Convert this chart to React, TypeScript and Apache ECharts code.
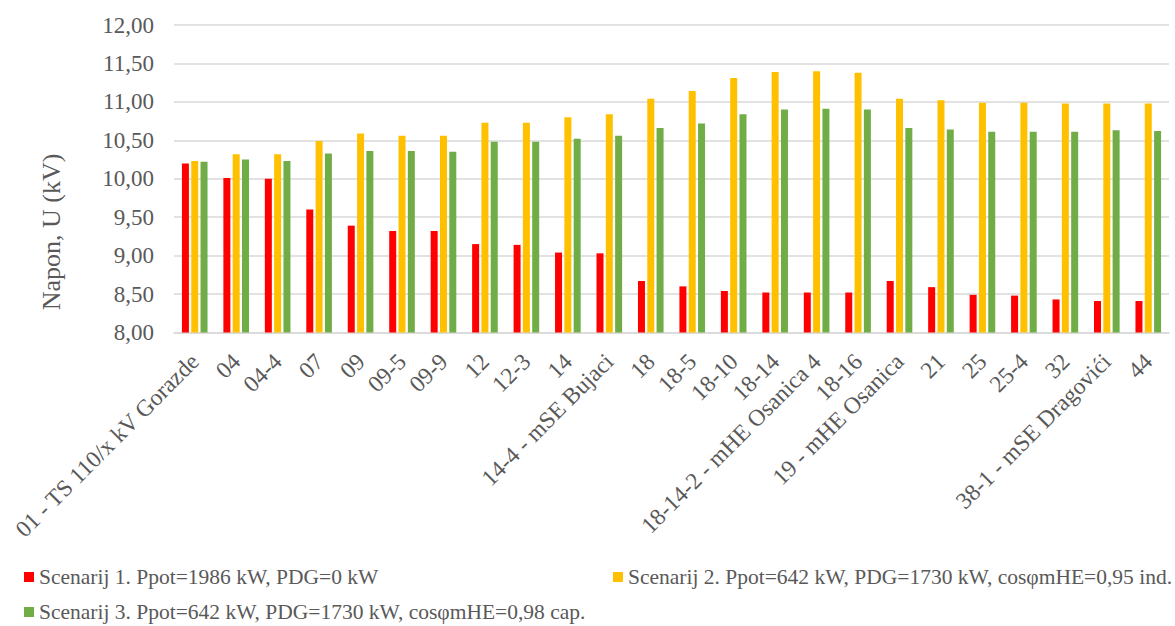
import React, { useEffect, useRef } from "react";
import * as echarts from "echarts";

// Node names along the feeder
const categories: string[] = [
  "01 - TS 110/x kV Gorazde",
  "04",
  "04-4",
  "07",
  "09",
  "09-5",
  "09-9",
  "12",
  "12-3",
  "14",
  "14-4 - mSE Bujaci",
  "18",
  "18-5",
  "18-10",
  "18-14",
  "18-14-2 - mHE Osanica 4",
  "18-16",
  "19 - mHE Osanica",
  "21",
  "25",
  "25-4",
  "32",
  "38-1 - mSE Dragovići",
  "44",
];

// Voltage per node (kV) for each scenario
const scenario1: number[] = [
  10.2, 10.01, 10.0, 9.6, 9.39, 9.32, 9.32, 9.15, 9.14, 9.04, 9.03, 8.67,
  8.6, 8.54, 8.52, 8.52, 8.52, 8.67, 8.59, 8.49, 8.48, 8.43, 8.41, 8.41,
];
const scenario2: number[] = [
  10.23, 10.32, 10.32, 10.49, 10.59, 10.56, 10.56, 10.73, 10.73, 10.8, 10.84,
  11.04, 11.14, 11.31, 11.39, 11.4, 11.38, 11.04, 11.02, 10.99, 10.99, 10.98,
  10.98, 10.98,
];
const scenario3: number[] = [
  10.22, 10.25, 10.23, 10.33, 10.36, 10.36, 10.35, 10.48, 10.48, 10.52, 10.56,
  10.66, 10.72, 10.84, 10.9, 10.91, 10.9, 10.66, 10.64, 10.61, 10.61, 10.61,
  10.63, 10.62,
];

const seriesNames: string[] = [
  "Scenarij 1. Ppot=1986 kW, PDG=0 kW",
  "Scenarij 2. Ppot=642 kW, PDG=1730 kW, cosφmHE=0,95 ind.",
  "Scenarij 3. Ppot=642 kW, PDG=1730 kW, cosφmHE=0,98 cap.",
];
const seriesColors: string[] = ["#FF0000", "#FFC000", "#70AD47"];

const yTitle = "Napon, U (kV)";

const FONT = "'Liberation Serif', 'Times New Roman', serif";
const TEXT_COLOR = "#595959";

export default function App() {
  const ref = useRef<HTMLDivElement>(null);

  useEffect(() => {
    if (!ref.current) return;
    const chart = echarts.init(ref.current, undefined, { renderer: "svg" });

    const values = [scenario1, scenario2, scenario3];
    const legendPos = [
      { left: 24, top: 566 },
      { left: 613, top: 566 },
      { left: 24, top: 601 },
    ];

    chart.setOption({
      animation: false,
      backgroundColor: "#ffffff",
      textStyle: { fontFamily: FONT, color: TEXT_COLOR },
      grid: { left: 174, right: 6, top: 25, bottom: 293.5 },
      legend: legendPos.map((p, i) => ({
        left: p.left,
        top: p.top,
        data: [seriesNames[i]],
        icon: "rect",
        itemWidth: 10,
        itemHeight: 10,
        itemGap: 0,
        padding: 0,
        textStyle: { fontFamily: FONT, fontSize: 21.5, color: TEXT_COLOR },
      })),
      graphic: [
        {
          type: "text",
          x: 51,
          y: 232,
          rotation: Math.PI / 2,
          style: {
            text: yTitle,
            fontFamily: FONT,
            fontSize: 26,
            fill: TEXT_COLOR,
            textAlign: "center",
            textVerticalAlign: "middle",
          },
        },
      ],
      xAxis: {
        type: "category",
        data: categories,
        axisLine: { lineStyle: { color: "#D9D9D9", width: 1.5 } },
        axisTick: { show: false },
        axisLabel: {
          interval: 0,
          rotate: 45,
          margin: 25,
          fontFamily: FONT,
          fontSize: 23.5,
          color: TEXT_COLOR,
        },
      },
      yAxis: {
        type: "value",
        min: 8,
        max: 12,
        interval: 0.5,
        axisLine: { show: false },
        axisTick: { show: false },
        splitLine: { lineStyle: { color: "#D9D9D9", width: 1.5 } },
        axisLabel: {
          margin: 20,
          fontFamily: FONT,
          fontSize: 23,
          color: TEXT_COLOR,
          formatter: (v: number) => v.toFixed(2).replace(".", ","),
        },
      },
      series: values.map((data, i) => ({
        name: seriesNames[i],
        type: "bar",
        data,
        barWidth: 7,
        barGap: "33%",
        itemStyle: { color: seriesColors[i] },
      })),
    });

    return () => chart.dispose();
  }, []);

  return (
    <div
      ref={ref}
      style={{ position: "fixed", left: 0, top: 0, width: 1175, height: 626 }}
    />
  );
}
